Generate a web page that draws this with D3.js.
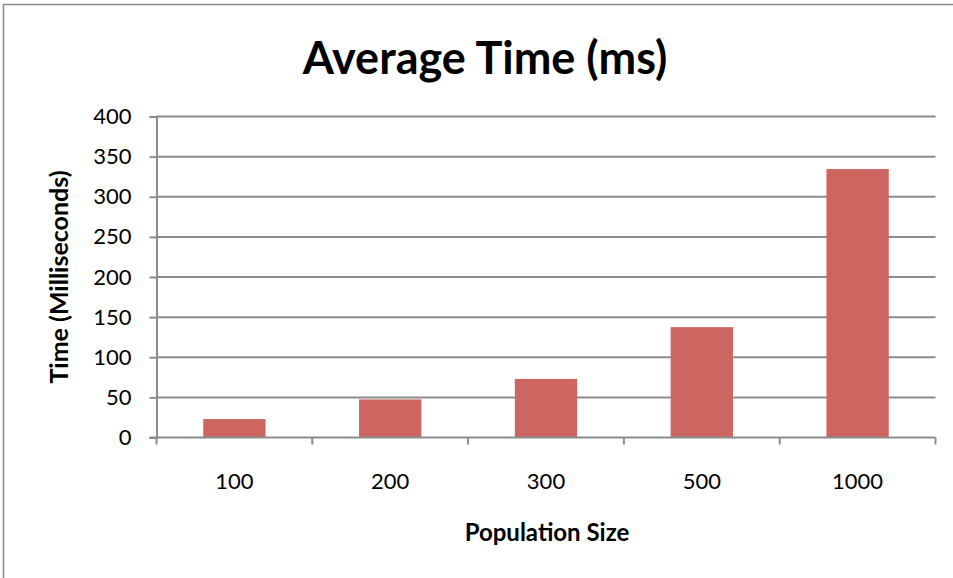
<!DOCTYPE html>
<html>
<head>
<meta charset="utf-8">
<script src="https://cdn.jsdelivr.net/npm/d3@7"></script>
<style>
  html, body { margin: 0; padding: 0; background: #fff; }
  svg { display: block; }
  text { font-family: Lato, "Open Sans", sans-serif; fill: #000; }
</style>
</head>
<body>
<svg id="chart" width="953" height="578"></svg>
<script>
// Average run time per population size
const categories = ["100", "200", "300", "500", "1000"];
const values = [23, 47.5, 73, 137.5, 334.5];
const yTicks = [0, 50, 100, 150, 200, 250, 300, 350, 400];

const chartTitle = "Average Time (ms)";
const xTitle = "Population Size";
const yTitle = "Time (Milliseconds)";

const width = 953, height = 578;
const margin = { left: 156.5, right: 17.5, top: 116.5, bottom: 140.5 };

const svg = d3.select("#chart");

// outer chart frame
svg.append("rect")
  .attr("x", 3.5).attr("y", 4.5)
  .attr("width", 960).attr("height", 600)
  .attr("fill", "none").attr("stroke", "#888").attr("stroke-width", 1.5);

const x = d3.scaleBand()
  .domain(categories)
  .range([margin.left, width - margin.right])
  .paddingInner(0.6)
  .paddingOuter(0.3);

const y = d3.scaleLinear()
  .domain([0, 400])
  .range([height - margin.bottom, margin.top]);

// horizontal gridlines
svg.append("g")
  .selectAll("line")
  .data(yTicks.filter(d => d > 0))
  .join("line")
  .attr("x1", margin.left).attr("x2", width - margin.right)
  .attr("y1", d => y(d)).attr("y2", d => y(d))
  .attr("stroke", "#8c8c8c").attr("stroke-width", 2);

// bars
svg.append("g")
  .selectAll("rect")
  .data(values)
  .join("rect")
  .attr("x", (d, i) => x(categories[i]))
  .attr("width", x.bandwidth())
  .attr("y", d => y(d))
  .attr("height", d => y(0) - y(d))
  .attr("fill", "#cd6660");

// y axis
const yAxis = svg.append("g")
  .attr("transform", `translate(${margin.left},0)`)
  .call(d3.axisLeft(y).tickValues(yTicks).tickSize(7).tickPadding(18));
yAxis.select(".domain").attr("stroke", "#8c8c8c").attr("stroke-width", 2);
yAxis.selectAll(".tick line").attr("stroke", "#8c8c8c").attr("stroke-width", 2);
yAxis.selectAll(".tick text")
  .style("font-family", "Lato, sans-serif").style("font-size", "22px").style("fill", "#000");

// x axis with boundary tick marks between categories
const xStep = x.step();
const xBounds = d3.range(categories.length + 1).map(i => margin.left + i * xStep);
const xAxisG = svg.append("g").attr("transform", `translate(0,${y(0)})`);
xAxisG.append("line")
  .attr("x1", margin.left - 7).attr("x2", width - margin.right)
  .attr("stroke", "#8c8c8c").attr("stroke-width", 2);
xAxisG.selectAll("line.tk")
  .data(xBounds)
  .join("line").attr("class", "tk")
  .attr("x1", d => d).attr("x2", d => d)
  .attr("y1", 0).attr("y2", 7)
  .attr("stroke", "#8c8c8c").attr("stroke-width", 2);
xAxisG.selectAll("text")
  .data(categories)
  .join("text")
  .attr("x", d => x(d) + x.bandwidth() / 2)
  .attr("y", 51)
  .attr("text-anchor", "middle")
  .style("font-size", "22px")
  .text(d => d);

// titles
svg.append("text")
  .attr("x", 485).attr("y", 74)
  .attr("text-anchor", "middle")
  .style("font-size", "45px").style("font-weight", "bold")
  .text(chartTitle);

svg.append("text")
  .attr("x", 547).attr("y", 541)
  .attr("text-anchor", "middle")
  .style("font-size", "24px").style("font-weight", "bold")
  .text(xTitle);

svg.append("text")
  .attr("transform", "translate(68,277) rotate(-90)")
  .attr("text-anchor", "middle")
  .style("font-size", "25px").style("font-weight", "bold")
  .text(yTitle);
</script>
</body>
</html>
